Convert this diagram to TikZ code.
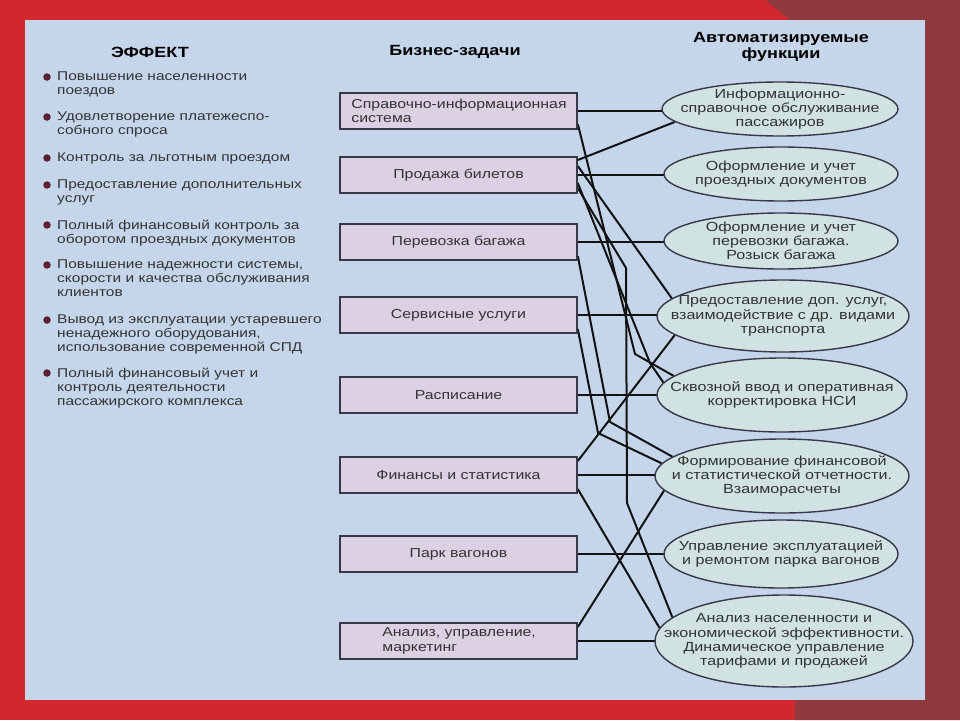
\documentclass[tikz,border=0pt]{standalone}
\usepackage{fontspec}
\setmainfont{Liberation Sans}
\newfontfamily\wf[FakeStretch=1.22]{Liberation Sans}
\usetikzlibrary{shapes.geometric,calc}
\pgfdeclarelayer{back}
\pgfdeclarelayer{wires}
\pgfsetlayers{back,wires,main}
\definecolor{redbg}{HTML}{D0282D}
\definecolor{maroonbg}{HTML}{8E3A3F}
\definecolor{panelc}{HTML}{C6D6EA}
\definecolor{boxfill}{HTML}{DCD0E3}
\definecolor{ellfill}{HTML}{D0E2E1}
\definecolor{ink}{HTML}{333333}
\definecolor{edgec}{HTML}{383848}
\definecolor{dotc}{HTML}{5A1F30}
\definecolor{wirec}{HTML}{121212}
\begin{document}
\begin{tikzpicture}[x=1pt,y=-1pt,
  hdr/.style={font=\wf\bfseries\fontsize{14.8}{16.5}\selectfont, text=black, inner sep=0, align=center},
  dot/.style={circle, fill=dotc, inner sep=0, minimum size=7.5},
  btext/.style={font=\wf\fontsize{12.7}{13.8}\selectfont, text=ink, inner sep=0, align=left, anchor=north west},
  task/.style={draw=edgec, line width=1.6, fill=boxfill, minimum width=237, minimum height=36, inner sep=0, font=\wf\fontsize{13}{14.5}\selectfont, text=ink, align=center},
  tasktxt/.style={font=\wf\fontsize{13}{14.5}\selectfont, text=ink, align=left, inner sep=0, anchor=west},
  func/.style={ellipse, draw=edgec, line width=1.4, fill=ellfill, inner sep=0},
  ftext/.style={font=\wf\fontsize{13.2}{14.2}\selectfont, text=ink, align=center, inner sep=0},
  wire/.style={line width=2, draw=wirec, line join=round}
]
\useasboundingbox (0,0) rectangle (960,720);
\begin{pgfonlayer}{back}
\fill[redbg] (0,0) rectangle (960,720);
\fill[maroonbg] (765,0) -- (960,0) -- (960,720) -- (795,720) -- (790,20) -- cycle;
\fill[panelc] (25,20) rectangle (925,700);
\end{pgfonlayer}

% headers
\node[hdr] (h1) at (150,52) {ЭФФЕКТ};
\node[hdr] (h2) at (455,52) {Бизнес-задачи};
\node[hdr] (h3) at (781,47) {Автоматизируемые\\функции};

% effects
\node[dot] (d1) at (47,77) {};
\node[btext] (t1) at (57,72) {Повышение населенности\\поездов};
\node[dot] (d2) at (47,117) {};
\node[btext] (t2) at (57,112) {Удовлетворение платежеспо-\\собного спроса};
\node[dot] (d3) at (47,158) {};
\node[btext] (t3) at (57,153) {Контроль за льготным проездом};
\node[dot] (d4) at (47,185) {};
\node[btext] (t4) at (57,180) {Предоставление дополнительных\\услуг};
\node[dot] (d5) at (47,225) {};
\node[btext] (t5) at (57,220) {Полный финансовый контроль за\\оборотом проездных документов};
\node[dot] (d6) at (47,265) {};
\node[btext] (t6) at (57,260) {Повышение надежности системы,\\скорости и качества обслуживания\\клиентов};
\node[dot] (d7) at (47,320) {};
\node[btext] (t7) at (57,315) {Вывод из эксплуатации устаревшего\\ненадежного оборудования,\\использование современной СПД};
\node[dot] (d8) at (47,373) {};
\node[btext] (t8) at (57,368) {Полный финансовый учет и\\контроль деятельности\\пассажирского комплекса};

% business tasks
\node[task] (b1) at (458.5,111) {};
\node[tasktxt] (b1t) at ($(b1.west)+(12,0)$) {Справочно-информационная\\система};
\node[task] (b2) at (458.5,175) {Продажа билетов};
\node[task] (b3) at (458.5,242) {Перевозка багажа};
\node[task] (b4) at (458.5,315) {Сервисные услуги};
\node[task] (b5) at (458.5,395) {Расписание};
\node[task] (b6) at (458.5,475) {Финансы и статистика};
\node[task] (b7) at (458.5,554) {Парк вагонов};
\node[task] (b8) at (458.5,641) {};
\node[tasktxt] (b8t) at ($(b8.west)+(43,0)$) {Анализ, управление,\\маркетинг};

% functions
\node[func, minimum width=236, minimum height=54] (e1) at (780,109) {};
\node[ftext] (e1t) at (e1) {Информационно-\\справочное обслуживание\\пассажиров};
\node[func, minimum width=234, minimum height=54] (e2) at (781,174) {};
\node[ftext] (e2t) at (e2) {Оформление и учет\\проездных документов};
\node[func, minimum width=234, minimum height=56] (e3) at (781,241) {};
\node[ftext] (e3t) at (e3) {Оформление и учет\\перевозки багажа.\\Розыск багажа};
\node[func, minimum width=252, minimum height=72] (e4) at (783,316) {};
\node[ftext] (e4t) at (e4) {Предоставление доп. услуг,\\взаимодействие с др. видами\\транспорта};
\node[func, minimum width=250, minimum height=74] (e5) at (782,395) {};
\node[ftext] (e5t) at (e5) {Сквозной ввод и оперативная\\корректировка НСИ};
\node[func, minimum width=254, minimum height=74] (e6) at (782,476) {};
\node[ftext] (e6t) at (e6) {Формирование финансовой\\и статистической отчетности.\\Взаиморасчеты};
\node[func, minimum width=234, minimum height=68] (e7) at (781,554) {};
\node[ftext] (e7t) at (e7) {Управление эксплуатацией\\и ремонтом парка вагонов};
\node[func, minimum width=258, minimum height=92] (e8) at (784,641) {};
\node[ftext] (e8t) at (e8) {Анализ населенности и\\экономической эффективности.\\Динамическое управление\\тарифами и продажей};

% bend points
\coordinate (k1) at (635,354);
\coordinate (k2) at (650,363);
\coordinate (k3) at (626,268);
\coordinate (k4) at (627,503);
\coordinate (k5) at (610,422);
\coordinate (k6) at (598,433);

\begin{pgfonlayer}{wires}
\draw[wire] (b1.east) -- (b1.east -| e1.center);
\draw[wire] (b2.east) -- (b2.east -| e2.center);
\draw[wire] (b3.east) -- (b3.east -| e3.center);
\draw[wire] (b4.east) -- (b4.east -| e4.center);
\draw[wire] (b5.east) -- (b5.east -| e5.center);
\draw[wire] (b6.east) -- (b6.east -| e6.center);
\draw[wire] (b7.east) -- (b7.east -| e7.center);
\draw[wire] (b8.east) -- (b8.east -| e8.center);
\draw[wire] ($(b2.east)+(0,-15)$) -- (e1.187);
\draw[wire] ($(b2.east)+(0,-9)$) -- (e4.171);
\draw[wire] ($(b1.east)+(0,13)$) -- (k1) -- (e5.170);
\draw[wire] ($(b2.east)+(0,8)$) -- (k2) -- (e5.174);
\draw[wire] ($(b2.east)+(0,13)$) -- (k3) -- (k4) -- (e8.168);
\draw[wire] ($(b3.east)+(0,14)$) -- (k5) -- (e6.170);
\draw[wire] ($(b4.east)+(0,14)$) -- (k6) -- (e6.174);
\draw[wire] ($(b6.east)+(0,-14)$) -- (e4.190);
\draw[wire] ($(b6.east)+(0,14)$) -- (e8.174);
\draw[wire] ($(b8.east)+(0,-14)$) -- (e6.187);
\end{pgfonlayer}
\end{tikzpicture}
\end{document}
